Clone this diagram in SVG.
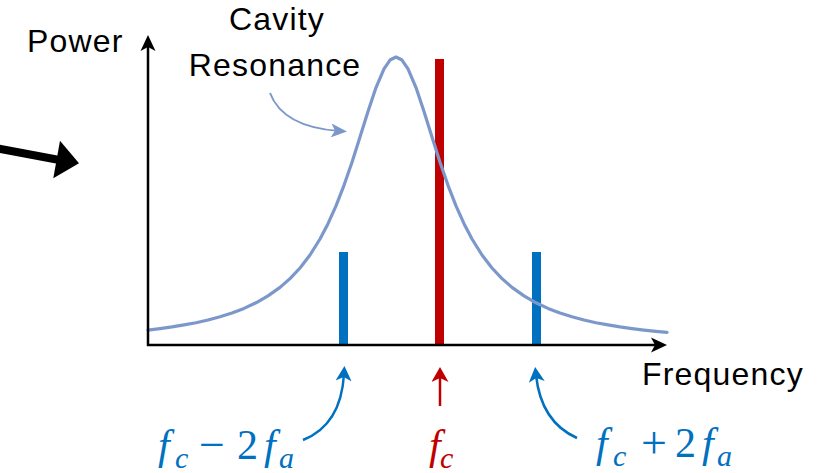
<svg xmlns="http://www.w3.org/2000/svg" width="836" height="473" viewBox="0 0 836 473">
<style>
.lbl{font-family:"Liberation Sans",Arial,sans-serif;font-size:32px;letter-spacing:1.2px;fill:#000}
.m{font-family:"Liberation Serif","Times New Roman",serif;font-size:42px}
.op{font-family:"Liberation Serif","Times New Roman",serif;font-size:46px}
.mi{font-style:italic}
.sub{font-family:"Liberation Serif","Times New Roman",serif;font-style:italic;font-size:30px}
.blue{fill:#0070C0}
.red{fill:#C00000}
</style>
<defs>
<marker id="mBlack" markerUnits="userSpaceOnUse" markerWidth="16" markerHeight="16" viewBox="0 0 16 16" refX="8" refY="8" orient="auto">
<path d="M0,0.5 L16,8 L0,15.5 L4,8 z" fill="#000"/>
</marker>
<marker id="mSteel" markerUnits="userSpaceOnUse" markerWidth="16" markerHeight="14" viewBox="0 0 16 14" refX="8" refY="7" orient="auto">
<path d="M0,0 L16,7 L0,14 L4,7 z" fill="#7B98CB"/>
</marker>
<marker id="mBlue" markerUnits="userSpaceOnUse" markerWidth="15" markerHeight="16" viewBox="0 0 15 16" refX="7" refY="8" orient="auto">
<path d="M0,0 L15,8 L0,16 L4,8 z" fill="#0070C0"/>
</marker>
<marker id="mRed" markerUnits="userSpaceOnUse" markerWidth="15" markerHeight="17" viewBox="0 0 15 17" refX="7" refY="8.5" orient="auto">
<path d="M0,0 L15,8.5 L0,17 L4,8.5 z" fill="#C00000"/>
</marker>
<filter id="soft" x="-5%" y="-5%" width="110%" height="110%">
<feGaussianBlur stdDeviation="0.6"/>
</filter>
</defs>

<g id="bars">
<rect id="bar-left" x="339" y="252" width="9" height="94" fill="#0070C0"/>
<rect id="bar-center" x="435" y="59" width="9" height="287" fill="#C00000"/>
<rect id="bar-right" x="532" y="252" width="9" height="94" fill="#0070C0"/>
</g>

<g id="resonance-curve">
<path d="M148,330.1 L160,328.6 L172,326.9 L184,324.9 L196,322.7 L208,320 L220,316.8 L232,313 L244,308.4 L256,302.8 L268,295.9 L280,287.4 L290,278.6 L300,268 L310,255 L320,239 L328,223.7 L336,205.9 L344,185.3 L352,162.2 L360,137.1 L368,111.4 L376,87.6 L384,68.8 L390,60.05 L396,57 L402,60.05 L408,68.8 L416,87.6 L424,111.4 L432,137.1 L440,162.2 L448,185.3 L456,205.9 L464,223.7 L472,239 L482,255 L492,268 L502,278.6 L512,287.4 L524,295.9 L536,302.8 L548,308.4 L560,313 L572,316.8 L584,320 L596,322.7 L608,324.9 L620,326.9 L632,328.6 L644,330.1 L656,331.4 L667,332.4" fill="none" stroke="#7B98CB" stroke-width="3.2" stroke-linejoin="round" stroke-linecap="round" filter="url(#soft)"/>
</g>

<g id="axes">
<path d="M148,346 L148,43" fill="none" stroke="#000" stroke-width="2.5" marker-end="url(#mBlack)"/>
<path d="M147,345 L659,345" fill="none" stroke="#000" stroke-width="2.5" marker-end="url(#mBlack)"/>
</g>

<g id="connectors">
<path d="M-5,148 L62,160.5" fill="none" stroke="#000" stroke-width="8"/>
<polygon points="79,163.3 60,140.7 53.3,178.3" fill="#000"/>
<path d="M270,93 Q283,127 339,131" fill="none" stroke="#7B98CB" stroke-width="2" marker-end="url(#mSteel)"/>
<path d="M303,440 Q341,425 344,374" fill="none" stroke="#0070C0" stroke-width="2.5" marker-end="url(#mBlue)"/>
<path d="M440,406 L440,375" fill="none" stroke="#C00000" stroke-width="2.5" marker-end="url(#mRed)"/>
<path d="M577,438 Q541,422 536,375" fill="none" stroke="#0070C0" stroke-width="2.5" marker-end="url(#mBlue)"/>
</g>

<g id="label-power"><text class="lbl" x="27" y="52">Power</text></g>
<g id="label-frequency"><text class="lbl" x="642" y="385">Frequency</text></g>
<g id="label-cavity">
<text class="lbl" x="277" y="30" text-anchor="middle">Cavity</text>
<text class="lbl" x="275" y="76" text-anchor="middle">Resonance</text>
</g>

<g id="label-left" class="blue">
<text class="m mi" x="158" y="459">f</text>
<text class="sub" x="175" y="468">c</text>
<text class="op" x="199" y="460">−</text>
<text class="m" x="237" y="459">2</text>
<text class="m mi" x="264" y="459">f</text>
<text class="sub" x="279" y="468">a</text>
</g>
<g id="label-center" class="red">
<text class="m mi" x="429" y="459">f</text>
<text class="sub" x="440" y="468">c</text>
</g>
<g id="label-right" class="blue">
<text class="m mi" x="596" y="457">f</text>
<text class="sub" x="613" y="466">c</text>
<text class="op" x="641" y="458">+</text>
<text class="m" x="675" y="457">2</text>
<text class="m mi" x="702" y="457">f</text>
<text class="sub" x="717" y="466">a</text>
</g>
</svg>
